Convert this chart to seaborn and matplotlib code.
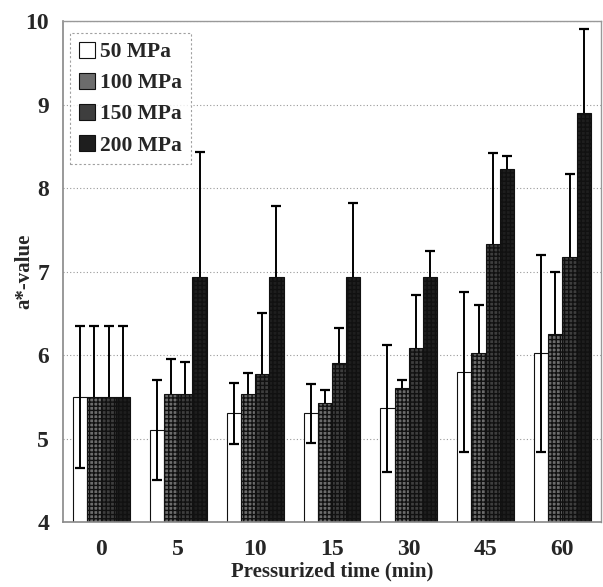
import matplotlib
matplotlib.use("Agg")
import matplotlib.pyplot as plt
import seaborn as sns
import pandas as pd
import numpy as np

times = ["0", "5", "10", "15", "30", "45", "60"]
pressures = ["50 MPa", "100 MPa", "150 MPa", "200 MPa"]
mean_50 = [5.50, 5.10, 5.30, 5.30, 5.36, 5.80, 6.02]
mean_100 = [5.50, 5.53, 5.53, 5.43, 5.60, 6.02, 6.25]
mean_150 = [5.50, 5.53, 5.77, 5.90, 6.08, 7.33, 7.18]
mean_200 = [5.50, 6.93, 6.93, 6.93, 6.93, 8.23, 8.90]
sd_50 = [0.85, 0.60, 0.36, 0.35, 0.76, 0.96, 1.18]
sd_100 = [0.85, 0.42, 0.25, 0.15, 0.10, 0.58, 0.75]
sd_150 = [0.85, 0.39, 0.73, 0.43, 0.64, 1.09, 0.99]
sd_200 = [0.85, 1.50, 0.85, 0.89, 0.32, 0.15, 1.00]

means = [mean_50, mean_100, mean_150, mean_200]
sds = [sd_50, sd_100, sd_150, sd_200]

rows = []
for p, m, s in zip(pressures, means, sds):
    for t, mv, sv in zip(times, m, s):
        rows.append({"time": t, "pressure": p, "value": mv, "sd": sv})
df = pd.DataFrame(rows)

sns.set_theme(style="white")
plt.rcParams["font.family"] = ["Liberation Serif", "DejaVu Serif"]
plt.rcParams["font.weight"] = "bold"

fig = plt.figure(figsize=(6.03, 5.87), dpi=100)
ax = fig.add_axes([0.1045, 0.1107, 0.892, 0.8533])

colors = ["#ffffff", "#6c6c6c", "#3e3e3e", "#1e1e1e"]
sns.barplot(data=df, x="time", y="value", hue="pressure", order=times,
            hue_order=pressures, palette=colors, width=0.74, errorbar=None,
            edgecolor="#111111", linewidth=0.8, ax=ax, zorder=2)

# error bars at bar centres
for i, (container, s) in enumerate(zip(ax.containers, sds)):
    xs = [b.get_x() + b.get_width() / 2 for b in container]
    ys = [b.get_height() for b in container]
    ax.errorbar(xs, ys, yerr=s, fmt="none", ecolor="black",
                elinewidth=1.4, capsize=3.5, capthick=1.6,
                zorder=3 if i == 0 else 1.5)

hatch_cols = [None, "#b5b5b5", "#8a8a8a", "#5a5a5a"]
for container, hc in zip(ax.containers, hatch_cols):
    for b in container:
        if hc:
            b.set_hatch("++++")
            try:
                b.set_hatchcolor(hc)
            except Exception:
                pass
            b.set_edgecolor("#111111")

ax.set_xlim(-0.5, 6.5)
ax.set_ylim(4, 10)
ax.set_yticks([4, 5, 6, 7, 8, 9, 10])
ax.yaxis.grid(True, linestyle=(0, (1, 2)), color="#999999", linewidth=0.8)
ax.set_axisbelow(True)
ax.tick_params(axis="y", length=0, labelsize=17, pad=10)
ax.tick_params(axis="x", length=0, labelsize=17, pad=12)
for lbl in ax.get_xticklabels() + ax.get_yticklabels():
    lbl.set_fontweight("bold")

ax.set_xlabel("Pressurized time (min)", fontsize=15, fontweight="bold")
ax.set_ylabel("a*-value", fontsize=15, fontweight="bold")
ax.xaxis.set_label_coords(0.5, -0.078)
ax.yaxis.set_label_coords(-0.053, 0.5)

for side in ["left", "bottom"]:
    ax.spines[side].set_color("#888888")
    ax.spines[side].set_linewidth(1.2)
for side in ["top", "right"]:
    ax.spines[side].set_color("#999999")
    ax.spines[side].set_linestyle((0, (2, 1)))
    ax.spines[side].set_linewidth(1.0)

leg = ax.legend(loc="upper left", bbox_to_anchor=(0.013, 0.976),
                frameon=True, fancybox=False, handlelength=0.75, handleheight=0.75,
                handletextpad=0.25, borderpad=0.4, labelspacing=0.5,
                borderaxespad=0.0,
                prop={"weight": "bold", "size": 15.5})
leg.get_frame().set_edgecolor("#888888")
leg.get_frame().set_linestyle((0, (2, 2)))
leg.get_frame().set_linewidth(0.8)

fig.savefig("out.png", dpi=100)
